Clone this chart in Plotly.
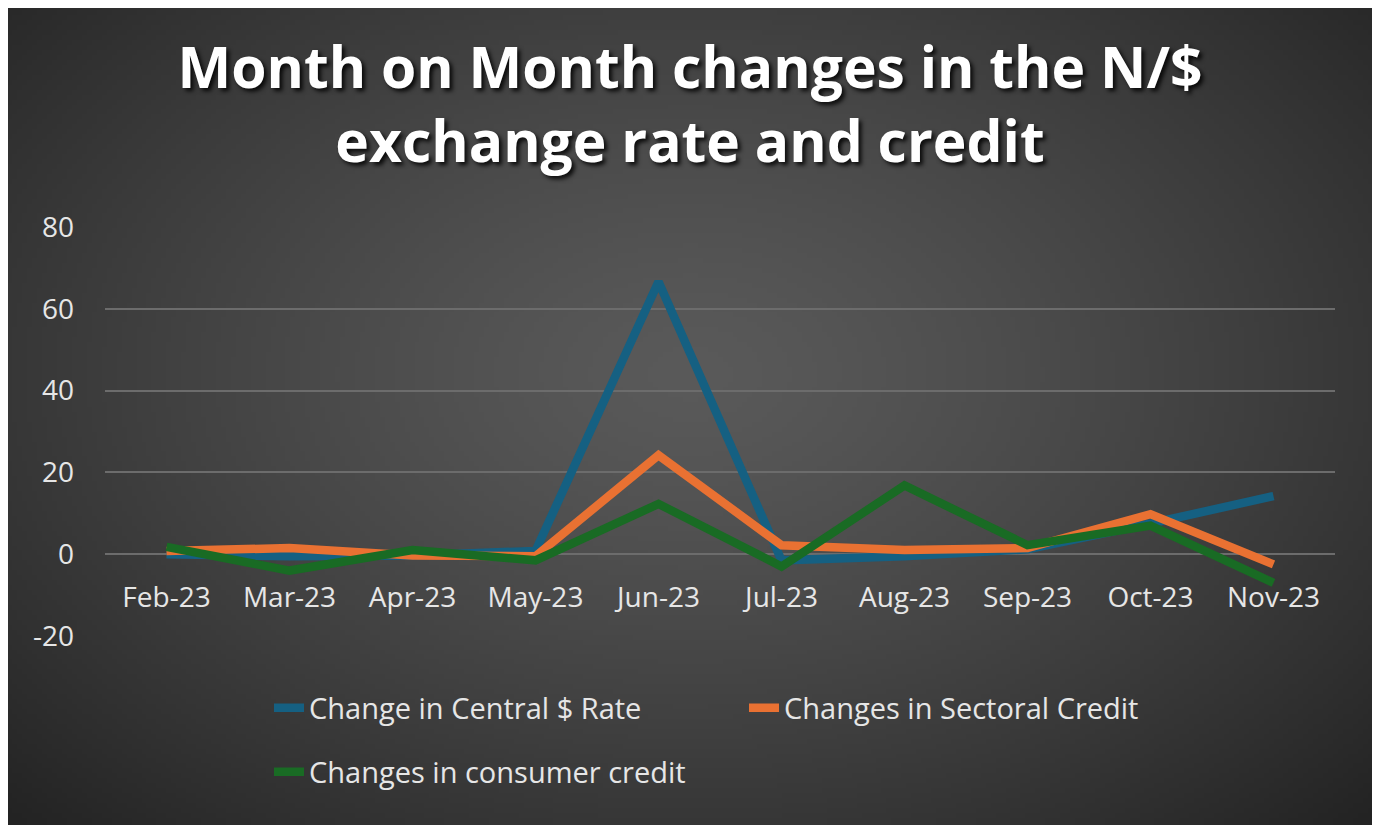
import base64
import struct
import zlib

import numpy as np
import plotly.graph_objects as go

months = ["Feb-23", "Mar-23", "Apr-23", "May-23", "Jun-23",
          "Jul-23", "Aug-23", "Sep-23", "Oct-23", "Nov-23"]
central_rate = [0.0, -0.5, -0.3, 0.8, 66.6, -1.5, -0.5, 1.2, 7.5, 14.2]
sectoral_credit = [0.8, 1.5, -0.3, -0.5, 24.2, 2.2, 1.0, 1.5, 9.8, -2.5]
consumer_credit = [1.8, -4.0, 1.0, -1.5, 12.3, -3.0, 16.8, 2.2, 7.0, -7.0]
y_ticks = [-20, 0, 20, 40, 60, 80]
y_labels = ["-20", "0", "20", "40", "60", "80"]

W, H = 1380, 828
OFF = 8  # page body margin pushes the figure 8px right/down
ml, mt = 105 - OFF, 227 - OFF
mr, mb = W - (1335 - OFF), H - (636 - OFF)
pw, ph = W - ml - mr, H - mt - mb


# dark radial gradient for the chart background, built as a small png
def gradient_png(w=276, h=166):
    u = np.linspace(0, 1, w)[None, :]
    v = np.linspace(0, 1, h)[:, None]
    d = np.sqrt(((u - 0.5) / 0.5) ** 2 + ((v - 0.45) / 0.55) ** 2) / np.sqrt(2)
    val = np.clip(90 - 55 * d ** 1.3, 30, 95).astype(np.uint8)
    img = np.stack([val, val, val], axis=2)
    raw = b"".join(b"\x00" + img[r].tobytes() for r in range(h))

    def chunk(tag, data):
        c = struct.pack(">I", len(data)) + tag + data
        return c + struct.pack(">I", zlib.crc32(tag + data) & 0xffffffff)

    png = b"\x89PNG\r\n\x1a\n"
    png += chunk(b"IHDR", struct.pack(">IIBBBBB", w, h, 8, 2, 0, 0, 0))
    png += chunk(b"IDAT", zlib.compress(raw, 9))
    png += chunk(b"IEND", b"")
    return "data:image/png;base64," + base64.b64encode(png).decode()


fig = go.Figure()
fig.add_trace(go.Scatter(x=months, y=central_rate, mode="lines",
                         name="Change in Central $ Rate",
                         line=dict(color="#156082", width=8.5), legend="legend"))
fig.add_trace(go.Scatter(x=months, y=sectoral_credit, mode="lines",
                         name="Changes in Sectoral Credit",
                         line=dict(color="#E97132", width=8.5), legend="legend"))
fig.add_trace(go.Scatter(x=months, y=consumer_credit, mode="lines",
                         name="Changes in consumer credit",
                         line=dict(color="#196B24", width=8.5), legend="legend2"))

tick_font = dict(family="Open Sans, Roboto, sans-serif", size=28, color="#e6e6e6")
legend_font = dict(family="Open Sans, Roboto, sans-serif", size=29, color="#e6e6e6")

fig.update_layout(
    width=W, height=H,
    margin=dict(l=ml, r=mr, t=mt, b=mb),
    paper_bgcolor="white",
    plot_bgcolor="rgba(0,0,0,0)",
    title=dict(
        text="Month on Month changes in the N/$<br>exchange rate and credit",
        x=(690 - OFF) / W, xanchor="center", y=1 - 80 / H, yanchor="middle",
        font=dict(family="Open Sans, Roboto, sans-serif", size=57, color="white", weight="bold",
                  shadow="3px 3px 4px rgba(0,0,0,0.85)"),
    ),
    xaxis=dict(type="category", range=[-0.5, 9.5], showgrid=False, zeroline=False,
               anchor="free", position=0.2, showline=False, ticks="",
               tickfont=tick_font, ticklabelstandoff=24),
    yaxis=dict(range=[-20, 80], tickvals=y_ticks, ticktext=y_labels,
               showgrid=True, gridcolor="#6c6c6c", gridwidth=1.5,
               zeroline=True, zerolinecolor="#6c6c6c", zerolinewidth=1.5,
               tickfont=tick_font, ticklabelstandoff=30),
    legend=dict(orientation="h", x=(269 - 105) / pw, xanchor="left",
                y=-(708 - 636) / ph, yanchor="middle",
                entrywidth=430, font=legend_font, bgcolor="rgba(0,0,0,0)"),
    legend2=dict(orientation="h", x=(269 - 105) / pw, xanchor="left",
                 y=-(772 - 636) / ph, yanchor="middle",
                 font=legend_font, bgcolor="rgba(0,0,0,0)"),
    images=[dict(source=gradient_png(), xref="paper", yref="paper",
                 x=-(ml + OFF - 5) / pw, y=1 + (mt + OFF - 3) / ph,
                 sizex=(W - 10) / pw, sizey=(H - 6) / ph,
                 xanchor="left", yanchor="top", sizing="stretch", layer="below")],
    showlegend=True,
)

fig.write_html("out.html")
